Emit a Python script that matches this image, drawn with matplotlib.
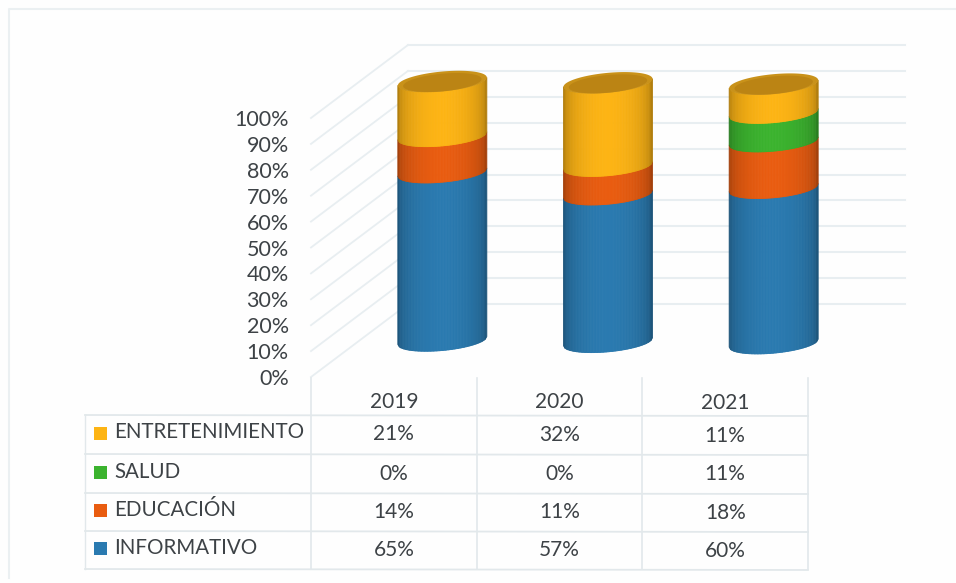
import numpy as np
import matplotlib
matplotlib.use("Agg")
import matplotlib.pyplot as plt
from matplotlib.collections import PolyCollection
from matplotlib.patches import Rectangle, Polygon
from matplotlib.transforms import Affine2D, IdentityTransform, blended_transform_factory

years = ["2019", "2020", "2021"]
# stack order, bottom to top
informativo = [65, 57, 60]
educacion = [14, 11, 18]
salud = [0, 0, 11]
entretenimiento = [21, 32, 11]
ticks = [0, 10, 20, 30, 40, 50, 60, 70, 80, 90, 100]
tick_labels = ["0%", "10%", "20%", "30%", "40%", "50%", "60%", "70%", "80%", "90%", "100%"]

blue = "#2a7ab0"
orange = "#e95c10"
green = "#3bb32e"
yellow = "#fdb414"
grid = "#e8eef1"
text = "#3d4246"

W, H = 956, 583
plt.rcParams["font.family"] = ["Lato", "DejaVu Sans"]
fig = plt.figure(figsize=(W / 100, H / 100), dpi=100, facecolor="#fefefe")

# front plane of the 3d box: y 0..100 runs from pixel 377 up to 118
ax = fig.add_axes([311 / W, 1 - 377 / H, (808 - 311) / W, (377 - 118) / H])
ax.set_xlim(-0.5, 2.5)
ax.set_ylim(0, 100)
ax.patch.set_alpha(0)
for s in ax.spines.values():
    s.set_visible(False)
ax.set_xticks([])
ax.set_yticks(ticks)
ax.set_yticklabels(tick_labels, fontsize=15.5, color=text)
ax.tick_params(axis="y", length=0, pad=16)

# overlay in pixels for the frame and the table rows
tb = fig.add_axes([0, 0, 1, 1])
tb.set_xlim(0, W)
tb.set_ylim(H, 0)
tb.axis("off")
tb.patch.set_alpha(0)

tb.plot([9, 9, 956], [578, 9, 9], color="#ebf0f2", lw=1.5)

# gridlines on side wall and back wall
back = ax.transData + Affine2D().translate(97, 73)
for v in ticks:
    p0 = ax.transData.transform((-0.5, v))
    p1 = back.transform((-0.5, v))
    ax.plot([p0[0], p1[0]], [p0[1], p1[1]], color=grid, lw=1.3, transform=IdentityTransform(), zorder=1, clip_on=False)
    ax.plot([-0.5, 2.5], [v, v], color=grid, lw=1.5, transform=back, zorder=1, clip_on=False)

# cylinders, built as thin shaded strips
mid = Affine2D().translate(48.5, 36.5)
half = 44.5
tilt = 4.0
depth = 10.0
xs = np.linspace(-1, 1, 61)


def shade(c, u):
    rgb = np.array(matplotlib.colors.to_rgb(c))
    return tuple(rgb * (0.7 + 0.3 * np.sqrt(np.clip(1 - (u * 1.02) ** 2, 0, 1))))


def edge(u):
    return tilt * u - depth * np.sqrt(max(1 - u * u, 0))


def draw_segment(i, lo, hi, color):
    tr = ax.transData + mid
    cx, y0 = tr.transform((i, lo))
    _, y1 = tr.transform((i, hi))
    drift = 0.008 * (cx - 441.5)
    polys, cols = [], []
    for a, b in zip(xs[:-1], xs[1:]):
        polys.append([
            (cx + a * half, y0 - drift + edge(a)),
            (cx + b * half, y0 - drift + edge(b)),
            (cx + b * half, y1 - drift + edge(b)),
            (cx + a * half, y1 - drift + edge(a)),
        ])
        cols.append(shade(color, (a + b) / 2))
    ax.add_collection(PolyCollection(polys, facecolors=cols, edgecolors="face", linewidths=0.6,
                                     transform=IdentityTransform(), zorder=3, clip_on=False))


def draw_lid(i):
    tr = ax.transData + mid
    cx, y1 = tr.transform((i, 100))
    drift = 0.008 * (cx - 441.5)
    t = np.linspace(0, 2 * np.pi, 120)
    for scale, dy, color, z in [(1.0, 0, "#c9921a", 4), (0.88, -1, "#bb8414", 5)]:
        pts = np.column_stack([cx + scale * half * np.cos(t),
                               y1 + dy - drift + scale * tilt * np.cos(t) + scale * depth * np.sin(t)])
        ax.add_patch(Polygon(pts, closed=True, facecolor=color, edgecolor="none",
                             transform=IdentityTransform(), zorder=z, clip_on=False))


for i in range(len(years)):
    bottom = 0
    for series, color in [(informativo, blue), (educacion, orange), (salud, green), (entretenimiento, yellow)]:
        if series[i] > 0:
            draw_segment(i, bottom, bottom + series[i], color)
        bottom += series[i]
    draw_lid(i)

# data table
rows = [("ENTRETENIMIENTO", entretenimiento, yellow), ("SALUD", salud, green), ("EDUCACIÓN", educacion, orange), ("INFORMATIVO", informativo, blue)]
row_lines = [415, 454, 493, 531, 569]
line_col = "#e2e8eb"
xy = blended_transform_factory(ax.transData, tb.transData)
for y in row_lines:
    tb.plot([85, 808], [y, y + 1], color=line_col, lw=1.3)
tb.plot([85, 85], row_lines[0:1] + row_lines[-1:], color=line_col, lw=1)
for c in [-0.5, 0.5, 1.5, 2.5]:
    tb.plot([c, c], [378, 569], color=line_col, lw=1.2, transform=xy)

for i, yr in enumerate(years):
    tb.text(i, 402 + i * 0.5, yr, transform=xy, ha="center", va="center", fontsize=15, color=text)
for r, (name, series, color) in enumerate(rows):
    y = (row_lines[r] + row_lines[r + 1]) / 2
    tb.add_patch(Rectangle((94, y - 8), 13, 13, facecolor=color, edgecolor="none"))
    tb.text(114, y - 2, name, ha="left", va="center", fontsize=14.8, color=text)
    for i, v in enumerate(series):
        tb.text(i, y + i * 0.5, f"{v}%", transform=xy, ha="center", va="center", fontsize=15, color=text)

fig.savefig("out.png", dpi=100, facecolor=fig.get_facecolor())
